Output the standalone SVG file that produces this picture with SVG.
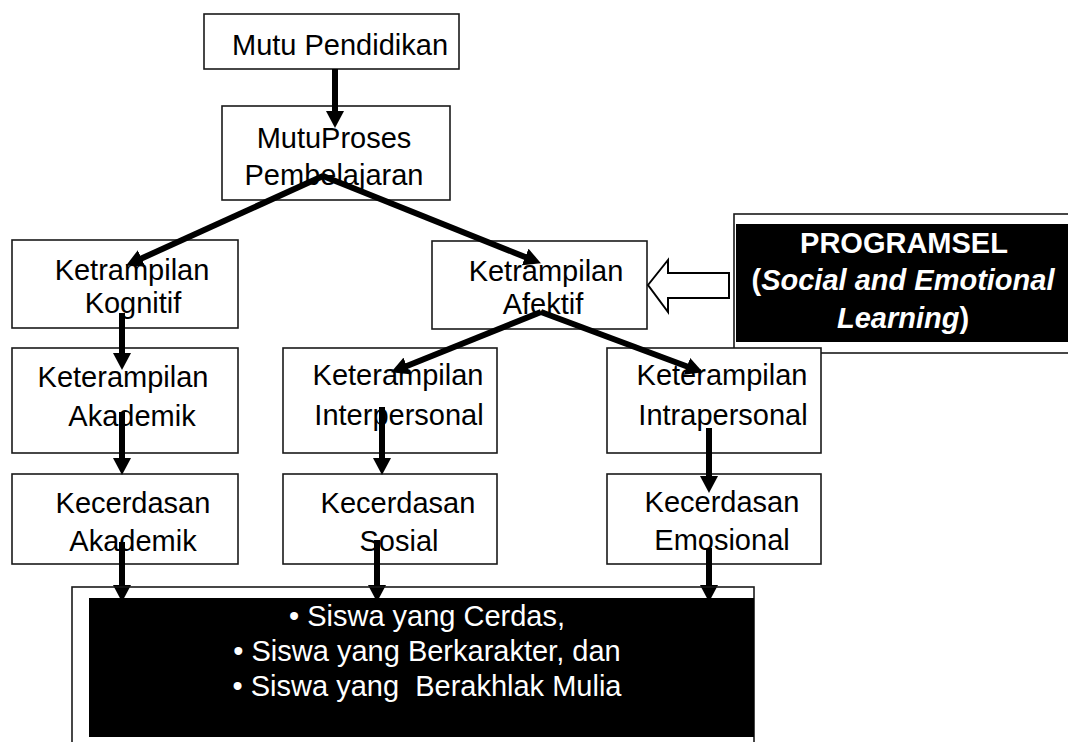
<svg xmlns="http://www.w3.org/2000/svg" width="1068" height="742" viewBox="0 0 1068 742">
<style>
  .box { fill: #ffffff; stroke: #1a1a1a; stroke-width: 1.6; }
  .t { font-family: "Liberation Sans", Arial, sans-serif; font-size: 29px; fill: #000; text-anchor: middle; }
  .w { font-family: "Liberation Sans", Arial, sans-serif; font-size: 29px; fill: #fff; text-anchor: middle; white-space: pre; }
  .b { font-weight: bold; }
  .i { font-style: italic; }
  .c { fill: none; stroke: #000; stroke-width: 6; marker-end: url(#ah); }
  .hollow { fill: #fff; stroke: #000; stroke-width: 2; }
</style>
<defs>
  <marker id="ah" markerUnits="userSpaceOnUse" markerWidth="17" markerHeight="18" viewBox="0 0 17 18" refX="8" refY="9" orient="auto">
    <path d="M0,0 L17,9 L0,18 z" fill="#000"/>
  </marker>
</defs>
<rect width="1068" height="742" fill="#fff"/>

<g id="node-mutu-pendidikan">
  <rect class="box" x="204" y="14" width="255" height="55"/>
  <text class="t" x="340" y="55">Mutu Pendidikan</text>
</g>
<g id="node-mutu-proses">
  <rect class="box" x="222" y="106" width="228" height="94"/>
  <text class="t" x="334" y="148">MutuProses</text>
  <text class="t" x="334" y="185">Pembelajaran</text>
</g>
<g id="node-kognitif">
  <rect class="box" x="12" y="240" width="226" height="88"/>
  <text class="t" x="132" y="280">Ketrampilan</text>
  <text class="t" x="133" y="313">Kognitif</text>
</g>
<g id="node-afektif">
  <rect class="box" x="432" y="241" width="215" height="88"/>
  <text class="t" x="546" y="281">Ketrampilan</text>
  <text class="t" x="543" y="314">Afektif</text>
</g>
<g id="node-programsel">
  <rect x="734" y="214" width="340" height="139" fill="#fff" stroke="#1a1a1a" stroke-width="1.6"/>
  <rect x="736" y="224" width="334" height="118" fill="#000"/>
  <text class="w b" x="904" y="253">PROGRAMSEL</text>
  <text class="w b" x="903" y="290">(<tspan class="i">Social and Emotional</tspan></text>
  <text class="w b" x="903" y="328"><tspan class="i">Learning</tspan>)</text>
  <polygon class="hollow" points="648,285 668,260 668,273 729,273 729,298 668,298 668,312"/>
</g>
<g id="node-akademik-skill">
  <rect class="box" x="12" y="348" width="226" height="105"/>
  <text class="t" x="123" y="387">Keterampilan</text>
  <text class="t" x="132" y="426">Akademik</text>
</g>
<g id="node-interpersonal">
  <rect class="box" x="283" y="348" width="214" height="105"/>
  <text class="t" x="398" y="385">Keterampilan</text>
  <text class="t" x="399" y="425">Interpersonal</text>
</g>
<g id="node-intrapersonal">
  <rect class="box" x="607" y="348" width="214" height="105"/>
  <text class="t" x="722" y="385">Keterampilan</text>
  <text class="t" x="723" y="425">Intrapersonal</text>
</g>
<g id="node-kecerdasan-akademik">
  <rect class="box" x="12" y="474" width="226" height="90"/>
  <text class="t" x="133" y="513">Kecerdasan</text>
  <text class="t" x="133" y="551">Akademik</text>
</g>
<g id="node-kecerdasan-sosial">
  <rect class="box" x="283" y="474" width="214" height="90"/>
  <text class="t" x="398" y="513">Kecerdasan</text>
  <text class="t" x="399" y="551">Sosial</text>
</g>
<g id="node-kecerdasan-emosional">
  <rect class="box" x="607" y="474" width="214" height="90"/>
  <text class="t" x="722" y="512">Kecerdasan</text>
  <text class="t" x="722" y="550">Emosional</text>
</g>

<g id="connectors">
  <line class="c" x1="335" y1="69" x2="335" y2="119"/>
  <line class="c" x1="323" y1="176" x2="134.3" y2="261.7"/>
  <line class="c" x1="323" y1="176" x2="532.6" y2="260"/>
  <line class="c" x1="541" y1="312" x2="399.4" y2="369"/>
  <line class="c" x1="541" y1="312" x2="694.5" y2="369.2"/>
  <line class="c" x1="122" y1="313" x2="122" y2="361"/>
  <line class="c" x1="122" y1="412" x2="122" y2="466"/>
  <line class="c" x1="382" y1="407" x2="382" y2="466"/>
  <line class="c" x1="709" y1="428" x2="709" y2="484"/>
  <line class="c" x1="122" y1="542" x2="122" y2="593"/>
  <line class="c" x1="377" y1="540" x2="377" y2="593"/>
  <line class="c" x1="709" y1="548" x2="709" y2="593"/>
</g>

<g id="node-siswa">
  <rect x="72" y="587" width="682" height="170" fill="none" stroke="#1a1a1a" stroke-width="1.6"/>
  <rect x="89" y="598" width="665" height="139" fill="#000"/>
  <text class="w" x="427" y="626">• Siswa yang Cerdas,</text>
  <text class="w" x="427" y="661">• Siswa yang Berkarakter, dan</text>
  <text class="w" x="427" y="696">• Siswa yang  Berakhlak Mulia</text>
</g>
</svg>
